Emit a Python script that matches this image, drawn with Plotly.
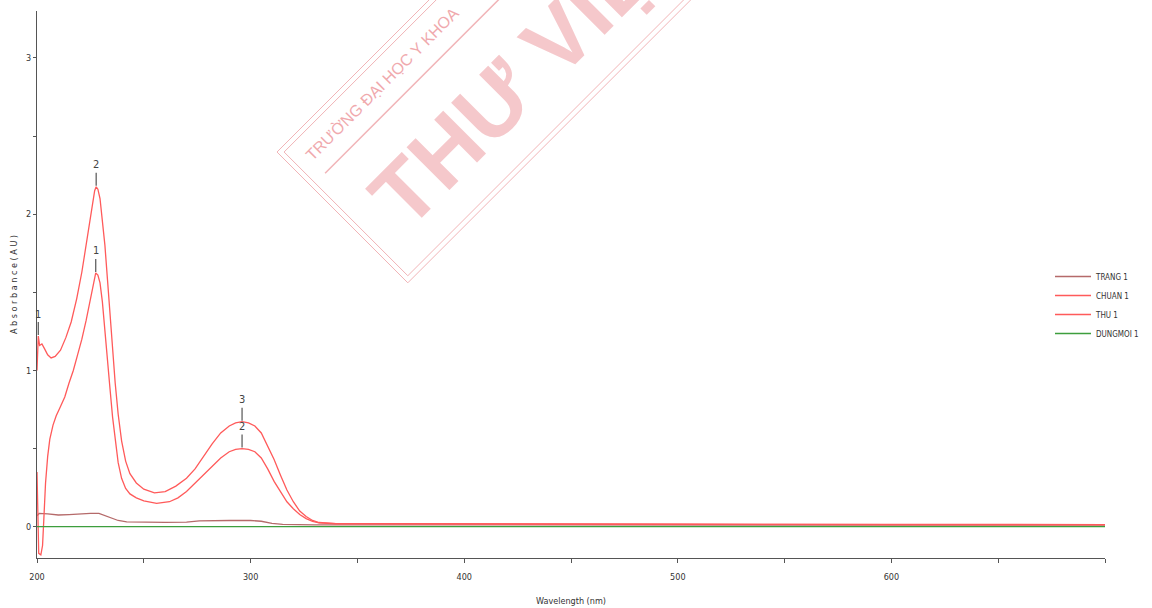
import math
import numpy as np
import plotly.graph_objects as go

# ---- spectra (wavelength in nm, absorbance in AU) ----
chuan_wl = [200.0, 200.3, 200.6, 201.2, 202.3, 203.5, 205.0, 206.6, 208.5, 211.0,
            213.5, 216.0, 218.6, 221.0, 223.3, 225.4, 227.0, 227.7, 228.5, 229.5,
            230.6, 231.8, 233.0, 234.2, 235.4, 236.6, 238.0, 239.6, 241.5, 243.5,
            246.5, 250.0, 255.0, 260.0, 265.0, 270.0, 274.0, 278.0, 282.0, 286.0,
            290.0, 293.0, 296.0, 299.0, 302.0, 305.0, 308.0, 311.0, 314.0, 317.0,
            320.0, 323.0, 326.0, 329.0, 332.0, 336.0, 340.0, 350.0, 400.0, 450.0,
            500.0, 550.0, 600.0, 650.0, 700.0]
chuan_abs = [1.00, 1.18, 1.22, 1.16, 1.17, 1.14, 1.10, 1.08, 1.09, 1.13,
             1.21, 1.31, 1.46, 1.63, 1.83, 2.02, 2.15, 2.175, 2.16, 2.10,
             1.97, 1.80, 1.58, 1.35, 1.13, 0.92, 0.72, 0.55, 0.42, 0.34,
             0.28, 0.24, 0.217, 0.225, 0.26, 0.31, 0.37, 0.45, 0.53, 0.60,
             0.645, 0.665, 0.672, 0.665, 0.645, 0.60, 0.52, 0.43, 0.33, 0.235,
             0.16, 0.10, 0.065, 0.04, 0.027, 0.022, 0.02, 0.02, 0.02, 0.019,
             0.016, 0.015, 0.014, 0.014, 0.014]

thu_wl = [200.0, 200.4, 200.8, 201.8, 202.6, 203.2, 204.0, 205.0, 206.0, 207.5,
          209.0, 211.0, 213.0, 215.0, 217.0, 219.0, 221.0, 223.0, 225.0, 226.5,
          227.5, 228.5, 229.5, 230.6, 231.8, 233.0, 234.2, 235.4, 236.6, 238.0,
          239.6, 241.5, 243.5, 246.5, 250.0, 256.0, 262.0, 266.0, 270.0, 274.0,
          278.0, 282.0, 286.0, 290.0, 293.0, 296.0, 299.0, 302.0, 305.0, 308.0,
          311.0, 314.0, 317.0, 320.0, 323.0, 326.0, 329.0, 332.0, 336.0, 340.0,
          350.0, 400.0, 450.0, 500.0, 550.0, 600.0, 650.0, 700.0]
thu_abs = [0.35, 0.0, -0.17, -0.18, -0.12, 0.05, 0.28, 0.45, 0.56, 0.65,
           0.71, 0.77, 0.83, 0.92, 1.00, 1.10, 1.20, 1.32, 1.46, 1.57,
           1.624, 1.61, 1.56, 1.44, 1.27, 1.07, 0.88, 0.70, 0.55, 0.41,
           0.31, 0.245, 0.21, 0.185, 0.165, 0.15, 0.16, 0.185, 0.225, 0.28,
           0.335, 0.39, 0.44, 0.48, 0.495, 0.50, 0.495, 0.48, 0.44, 0.37,
           0.29, 0.225, 0.16, 0.115, 0.078, 0.052, 0.035, 0.025, 0.02, 0.019,
           0.019, 0.019, 0.018, 0.016, 0.015, 0.014, 0.014, 0.014]

trang_wl = [200.0, 201.0, 205.0, 210.0, 215.0, 220.0, 225.0, 229.0, 232.0, 235.0,
            238.0, 242.0, 250.0, 260.0, 270.0, 276.0, 290.0, 300.0, 305.0, 310.0,
            315.0, 330.0, 400.0, 500.0, 600.0, 700.0]
trang_abs = [0.07, 0.085, 0.082, 0.075, 0.078, 0.083, 0.085, 0.085, 0.07, 0.052,
             0.04, 0.031, 0.028, 0.028, 0.03, 0.038, 0.04, 0.04, 0.035, 0.022,
             0.015, 0.012, 0.012, 0.01, 0.01, 0.01]

dungmoi_wl = [200.0, 300.0, 400.0, 500.0, 600.0, 700.0]
dungmoi_abs = [0.001, 0.001, 0.001, 0.001, 0.001, 0.001]

# peak markers: wavelength of each numbered peak per spectrum
chuan_peaks = [200.6, 227.7, 296.0]
thu_peaks = [227.5, 296.0]

x_ticks = [200, 250, 300, 350, 400, 450, 500, 550, 600, 650, 700]
x_labels = ["200", "", "300", "", "400", "", "500", "", "600", "", ""]
y_ticks = [0, 0.5, 1, 1.5, 2, 2.5, 3]
y_labels = ["0", "", "1", "", "2", "", "3"]

# ---- figure geometry (pixels) ----
W, H = 1152, 608
ML, MR, MT, MB = 37, 47, 11, 50
PW, PH = W - ML - MR, H - MT - MB

TICK_FONT = "Liberation Sans Narrow, DejaVu Sans Condensed, Arial Narrow, sans-serif"
RED = "#ff5a5a"

fig = go.Figure()
fig.add_trace(go.Scatter(x=trang_wl, y=trang_abs, name="TRANG 1", mode="lines",
                         line=dict(color="#b56a6a", width=1.3)))
fig.add_trace(go.Scatter(x=chuan_wl, y=chuan_abs, name="CHUAN 1", mode="lines",
                         line=dict(color=RED, width=1.3)))
fig.add_trace(go.Scatter(x=thu_wl, y=thu_abs, name="THU 1", mode="lines",
                         line=dict(color=RED, width=1.3)))
fig.add_trace(go.Scatter(x=dungmoi_wl, y=dungmoi_abs, name="DUNGMOI 1", mode="lines",
                         line=dict(color="#3d9e3d", width=1.3)))

# numbered peak labels with a short leader line
annotations = []
for wl_list, ab_list, peaks in ((chuan_wl, chuan_abs, chuan_peaks),
                                (thu_wl, thu_abs, thu_peaks)):
    for i, pk in enumerate(peaks, start=1):
        annotations.append(dict(
            x=pk, y=float(np.interp(pk, wl_list, ab_list)), xref="x", yref="y",
            text=str(i), showarrow=True, arrowhead=0, arrowwidth=1.2,
            arrowcolor="#555555", ax=0, ay=-22, standoff=1,
            font=dict(family=TICK_FONT, size=11, color="#444444")))


# ---- library stamp in the background ----
def to_paper(px, py):
    return (px - ML) / PW, (H - MB - py) / PH


def rot_path(points):
    pts = [to_paper(*p) for p in points]
    return "M " + " L ".join(f"{x:.5f},{y:.5f}" for x, y in pts) + " Z"


def line_path(points):
    pts = [to_paper(*p) for p in points]
    return "M " + " L ".join(f"{x:.5f},{y:.5f}" for x, y in pts)


r2 = math.sqrt(0.5)
u = (r2, -r2)     # along the stamp (up-right)
n = (r2, r2)      # across the stamp (down-right)


def pt(base, a, b):
    return (base[0] + a * u[0] + b * n[0], base[1] + a * u[1] + b * n[1])


L0 = (277.0, 152.0)
short_len = 185.0
long_len = 700.0
STAMP = "#f1b4b7"
shapes = []
outer = [pt(L0, 0, 0), pt(L0, long_len, 0), pt(L0, long_len, short_len), pt(L0, 0, short_len)]
inner = [pt(L0, 5, 5), pt(L0, long_len, 5), pt(L0, long_len, short_len - 5), pt(L0, 5, short_len - 5)]
shapes.append(dict(type="path", xref="paper", yref="paper", path=rot_path(outer),
                   line=dict(color=STAMP, width=1), layer="below"))
shapes.append(dict(type="path", xref="paper", yref="paper", path=rot_path(inner),
                   line=dict(color=STAMP, width=1), layer="below"))
shapes.append(dict(type="path", xref="paper", yref="paper",
                   path=line_path([pt(L0, 19, 49), pt(L0, long_len, 49)]),
                   line=dict(color=STAMP, width=1.5), layer="below"))

small_c = pt(L0, 15 + 107, 26)
big_c = pt(L0, 40 + 205, 118)
for txt, c, size, col, weight in (("TRƯỜNG ĐẠI HỌC Y KHOA", small_c, 16, "#f0a9ad", "normal"),
                                  ("THƯ VIỆN", big_c, 88, "#f5c8cb", "bold")):
    xp, yp = to_paper(*c)
    annotations.append(dict(x=xp, y=yp, xref="paper", yref="paper", text=txt,
                            showarrow=False, textangle=-45, xanchor="center",
                            yanchor="middle",
                            font=dict(family="Liberation Sans, Arial, sans-serif",
                                      size=size, color=col, weight=weight)))

fig.update_layout(
    width=W, height=H,
    margin=dict(l=ML, r=MR, t=MT, b=MB, pad=0, autoexpand=False),
    paper_bgcolor="white", plot_bgcolor="white",
    font=dict(family=TICK_FONT, size=9, color="#333333"),
    showlegend=True,
    legend=dict(x=(1050 - ML) / PW, y=(H - MB - 262) / PH, xanchor="left", yanchor="top",
                bgcolor="rgba(0,0,0,0)", font=dict(size=8, family=TICK_FONT, color="#333333"),
                tracegroupgap=0, itemwidth=36),
    shapes=shapes,
    annotations=annotations,
)
fig.update_xaxes(range=[200, 700], showgrid=False, zeroline=False, automargin=False,
                 showline=True, linecolor="#555555", linewidth=1,
                 ticks="outside", ticklen=4, tickcolor="#555555",
                 tickvals=x_ticks, ticktext=x_labels,
                 ticklabelstandoff=6,
                 tickfont=dict(size=9, family=TICK_FONT, color="#333333"),
                 title=dict(text="Wavelength (nm)", standoff=16,
                            font=dict(size=9, family=TICK_FONT, color="#333333")))
fig.update_yaxes(range=[-0.2, 3.3], showgrid=False, zeroline=False, automargin=False,
                 showline=True, linecolor="#555555", linewidth=1,
                 ticks="outside", ticklen=3, tickcolor="#555555",
                 tickvals=y_ticks, ticktext=y_labels,
                 tickfont=dict(size=9, family=TICK_FONT, color="#333333"),
                 title=dict(text="A b s o r b a n c e ( A U )", standoff=6,
                            font=dict(size=9, family=TICK_FONT, color="#333333")))

fig.write_html("out.html")
